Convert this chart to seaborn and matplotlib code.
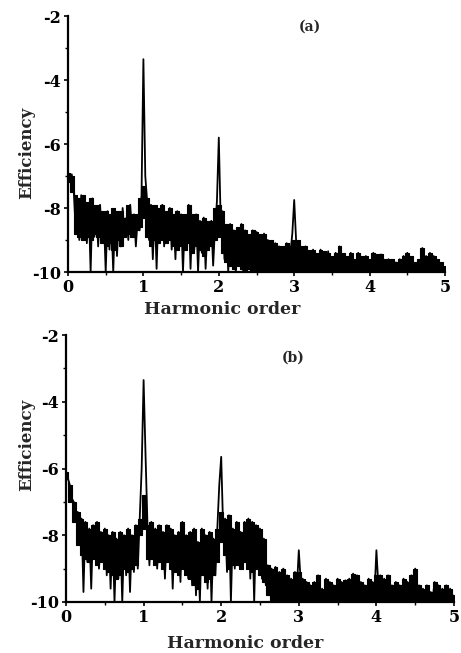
import numpy as np
import pandas as pd
import matplotlib
matplotlib.use("Agg")
import matplotlib.pyplot as plt
import seaborn as sns

# Harmonic order grids
harmonic_step = 0.025      # spectrum trace
envelope_step = 0.05       # dense band envelopes
x_ticks = [0, 1, 2, 3, 4, 5]
y_ticks = [-10, -8, -6, -4, -2]
y_ticklabels = ["-10", "-8", "-6", "-4", "-2"]

# Panel (a) efficiency trace (log scale)
eff_a = [
    -6.9, -7.0, -6.95, -7.4, -8.6, -7.7, -9.0, -7.6, -8.8, -7.7,
    -9.1, -7.9, -10.0, -7.7, -8.9, -8.0, -9.2, -7.9, -9.0, -8.2,
    -10.0, -8.1, -9.3, -8.3, -10.0, -8.1, -9.5, -8.2, -9.2, -8.0,
    -8.9, -8.3, -9.0, -7.9, -8.8, -8.2, -9.2, -8.3, -8.7, -7.6,
    -3.35, -7.0, -7.8, -9.0, -7.9, -9.6, -8.0, -9.9, -8.1, -9.0,
    -7.9, -9.2, -8.2, -9.0, -8.0, -9.3, -8.3, -9.6, -8.1, -9.2,
    -8.2, -10.0, -8.3, -9.1, -7.9, -9.9, -8.3, -9.3, -8.2, -10.0,
    -8.4, -9.4, -8.3, -9.9, -8.5, -9.0, -8.4, -9.8, -8.6, -7.8,
    -5.8, -8.4, -8.1, -9.6, -8.6, -10.0, -8.5, -9.7, -8.7, -10.0,
    -8.8, -9.8, -8.5, -10.0, -8.7, -9.9, -8.9, -10.0, -8.7, -9.8,
    -8.75, -10.0, -8.9, -9.7, -8.8, -10.0, -9.0, -9.9, -9.1, -10.0,
    -9.1, -9.9, -9.2, -10.0, -9.3, -9.8, -9.1, -10.0, -9.4, -8.8,
    -7.75, -9.0, -9.2, -10.0, -9.3, -9.9, -9.2, -10.0, -9.4, -9.8,
    -9.3, -10.0, -9.5, -9.9, -9.3, -10.0, -9.4, -9.9, -9.35, -10.0,
    -9.6, -9.9, -9.4, -10.0, -9.2, -9.9, -9.5, -10.0, -9.6, -9.9,
    -9.4, -10.0, -9.7, -9.9, -9.4, -10.0, -9.6, -9.9, -9.5, -10.0,
    -9.7, -10.0, -9.4, -9.9, -9.5, -10.0, -9.45, -9.9, -9.7, -10.0,
    -9.6, -9.9, -9.8, -10.0, -9.7, -9.9, -9.6, -10.0, -9.5, -9.9,
    -9.4, -10.0, -9.6, -9.9, -9.8, -10.0, -9.7, -10.0, -9.25, -9.9,
    -9.5, -10.0, -9.4, -9.9, -9.5, -10.0, -9.7, -9.9, -9.8, -10.0,
    -9.9,
]

# Panel (a) dense band: upper and lower edges (step 0.05)
top_a = [
    -6.9, -7.0, -7.6, -7.7, -7.6, -7.8, -7.7, -7.9, -7.9, -8.1,
    -8.1, -8.2, -8.0, -8.1, -8.1, -8.3, -7.9, -8.2, -8.2, -7.7,
    -7.3, -7.7, -7.9, -7.9, -8.0, -7.9, -8.1, -8.0, -8.2, -8.1,
    -8.2, -8.2, -7.9, -8.2, -8.2, -8.4, -8.3, -8.4, -8.4, -8.0,
    -7.9, -8.1, -8.5, -8.5, -8.7, -8.6, -8.5, -8.7, -8.8, -8.7,
    -8.75, -8.8, -8.8, -9.0, -9.0, -9.1, -9.2, -9.2, -9.1, -9.2,
    -9.0, -9.0, -9.2, -9.2, -9.3, -9.3, -9.4, -9.3, -9.35, -9.4,
    -9.5, -9.4, -9.2, -9.4, -9.5, -9.4, -9.6, -9.4, -9.5, -9.5,
    -9.6, -9.4, -9.45, -9.45, -9.6, -9.6, -9.6, -9.7, -9.6, -9.5,
    -9.4, -9.5, -9.7, -9.6, -9.25, -9.5, -9.4, -9.5, -9.6, -9.7,
    -9.8,
]
floor_a = [
    -7.2, -7.5, -8.8, -8.9, -9.0, -8.9, -9.0, -8.8, -8.9, -9.1,
    -9.2, -9.1, -9.3, -9.0, -9.2, -8.9, -8.8, -8.9, -8.7, -8.6,
    -8.3, -8.9, -9.2, -9.0, -9.1, -9.0, -9.1, -9.0, -9.2, -9.3,
    -9.2, -9.3, -9.1, -9.4, -9.2, -9.3, -9.5, -9.3, -9.2, -9.0,
    -8.9, -9.4, -9.7, -9.8, -9.9, -9.8, -9.9, -10.0, -9.9, -10.0,
    -10.0, -10.0, -10.0, -10.0, -10.0, -10.0, -10.0, -10.0, -10.0, -10.0,
    -10.0, -10.0, -10.0, -10.0, -10.0, -10.0, -10.0, -10.0, -10.0, -10.0,
    -10.0, -10.0, -10.0, -10.0, -10.0, -10.0, -10.0, -10.0, -10.0, -10.0,
    -10.0, -10.0, -10.0, -10.0, -10.0, -10.0, -10.0, -10.0, -10.0, -10.0,
    -10.0, -10.0, -10.0, -10.0, -10.0, -10.0, -10.0, -10.0, -10.0, -10.0,
    -10.0,
]

# Panel (b) efficiency trace
eff_b = [
    -6.1, -6.3, -6.5, -6.9, -7.0, -7.6, -7.3, -8.3, -7.5, -9.7,
    -7.6, -8.8, -7.8, -9.6, -7.7, -8.7, -7.6, -9.0, -7.9, -8.8,
    -7.8, -9.2, -8.0, -9.6, -7.9, -10.0, -8.1, -9.3, -7.9, -10.0,
    -8.0, -9.2, -7.8, -9.7, -8.0, -9.1, -7.7, -9.0, -7.5, -6.0,
    -3.35, -5.6, -7.7, -8.9, -7.6, -8.7, -7.8, -9.0, -7.7, -8.8,
    -7.9, -9.3, -7.7, -8.8, -7.8, -9.6, -8.0, -9.0, -7.9, -9.4,
    -7.6, -9.0, -8.0, -9.3, -7.9, -9.5, -7.8, -9.8, -8.2, -10.0,
    -7.8, -9.2, -8.0, -9.6, -7.9, -10.0, -8.1, -9.2, -7.8, -6.5,
    -5.65, -7.8, -7.5, -9.1, -7.4, -10.0, -7.8, -9.0, -7.6, -8.9,
    -7.9, -9.0, -7.6, -8.8, -7.5, -9.3, -7.6, -10.0, -7.7, -9.0,
    -7.8, -9.3, -8.1, -9.5, -8.9, -9.8, -9.0, -10.0, -8.95, -9.7,
    -9.1, -10.0, -9.0, -9.8, -9.2, -10.0, -9.3, -9.9, -9.1, -9.6,
    -8.45, -9.4, -9.3, -10.0, -9.4, -9.9, -9.5, -10.0, -9.4, -9.9,
    -9.2, -10.0, -9.6, -9.9, -9.3, -10.0, -9.4, -9.9, -9.5, -10.0,
    -9.3, -9.9, -9.4, -10.0, -9.35, -9.9, -9.3, -10.0, -9.15, -9.9,
    -9.2, -10.0, -9.4, -9.9, -9.5, -10.0, -9.3, -9.9, -9.4, -9.8,
    -8.45, -9.5, -9.2, -10.0, -9.3, -9.9, -9.2, -10.0, -9.5, -9.9,
    -9.4, -10.0, -9.5, -9.9, -9.3, -10.0, -9.4, -9.9, -9.2, -10.0,
    -9.0, -9.9, -9.5, -10.0, -9.6, -9.9, -9.5, -10.0, -9.7, -9.9,
    -9.4, -10.0, -9.5, -9.9, -9.6, -10.0, -9.5, -9.9, -9.6, -10.0,
    -9.8,
]

# Panel (b) dense band: upper and lower edges (step 0.05)
top_b = [
    -6.1, -6.5, -7.0, -7.3, -7.5, -7.6, -7.8, -7.7, -7.6, -7.9,
    -7.8, -8.0, -7.9, -8.1, -7.9, -8.0, -7.8, -8.0, -7.7, -7.5,
    -6.8, -7.7, -7.6, -7.8, -7.7, -7.9, -7.7, -7.8, -8.0, -7.9,
    -7.6, -8.0, -7.9, -7.8, -8.2, -7.8, -8.0, -7.9, -8.1, -7.8,
    -7.3, -7.5, -7.4, -7.8, -7.6, -7.9, -7.6, -7.5, -7.6, -7.7,
    -7.8, -8.1, -8.9, -9.0, -8.95, -9.1, -9.0, -9.2, -9.3, -9.1,
    -9.1, -9.3, -9.4, -9.5, -9.4, -9.2, -9.6, -9.3, -9.4, -9.5,
    -9.3, -9.4, -9.35, -9.3, -9.15, -9.2, -9.4, -9.5, -9.3, -9.4,
    -9.2, -9.2, -9.3, -9.2, -9.5, -9.4, -9.5, -9.3, -9.4, -9.2,
    -9.0, -9.5, -9.6, -9.5, -9.7, -9.4, -9.5, -9.6, -9.5, -9.6,
    -9.8,
]
floor_b = [
    -6.3, -7.0, -7.6, -8.3, -8.6, -8.7, -8.8, -8.7, -8.9, -8.8,
    -9.0, -9.1, -9.2, -9.3, -9.2, -9.0, -9.1, -9.0, -8.9, -8.0,
    -7.8, -8.7, -8.7, -8.9, -8.8, -9.0, -8.8, -9.0, -9.1, -9.2,
    -9.0, -9.2, -9.3, -9.5, -9.6, -9.2, -9.4, -9.3, -9.2, -8.8,
    -8.2, -8.6, -9.0, -8.9, -8.9, -9.0, -8.8, -9.0, -9.1, -9.0,
    -9.2, -9.4, -9.8, -10.0, -10.0, -10.0, -10.0, -10.0, -10.0, -10.0,
    -10.0, -10.0, -10.0, -10.0, -10.0, -10.0, -10.0, -10.0, -10.0, -10.0,
    -10.0, -10.0, -10.0, -10.0, -10.0, -10.0, -10.0, -10.0, -10.0, -10.0,
    -10.0, -10.0, -10.0, -10.0, -10.0, -10.0, -10.0, -10.0, -10.0, -10.0,
    -10.0, -10.0, -10.0, -10.0, -10.0, -10.0, -10.0, -10.0, -10.0, -10.0,
    -10.0,
]

df_a = pd.DataFrame({"order": np.arange(len(eff_a)) * harmonic_step, "eff": eff_a})
df_b = pd.DataFrame({"order": np.arange(len(eff_b)) * harmonic_step, "eff": eff_b})
band_a = pd.DataFrame({"order": np.arange(len(top_a)) * envelope_step, "top": top_a, "floor": floor_a})
band_b = pd.DataFrame({"order": np.arange(len(top_b)) * envelope_step, "top": top_b, "floor": floor_b})

sns.set_style("ticks")
plt.rcParams["font.family"] = ["DejaVu Serif"]
plt.rcParams["font.weight"] = "bold"

fig = plt.figure(figsize=(4.61, 6.53), dpi=100)
ax_a = fig.add_axes([68 / 461, 1 - 272 / 653, 377 / 461, 256 / 653])
ax_b = fig.add_axes([66 / 461, 1 - 602 / 653, 388 / 461, 267 / 653])

for ax, df, band, lab, lab_xy, ylab_y, xlab_y, xlab_x in [
    (ax_a, df_a, band_a, "(a)", (310, 27), 153, 309, 222),
    (ax_b, df_b, band_b, "(b)", (293, 358), 445, 643, 245),
]:
    ax.fill_between(band["order"], band["floor"], band["top"],
                    color="black", linewidth=0.8, step="mid")
    sns.lineplot(data=df, x="order", y="eff", ax=ax, color="black",
                 linewidth=1.3, estimator=None, sort=False)
    ax.set_xlim(0, 5)
    ax.set_ylim(-10, -2)
    ax.set_xticks(x_ticks)
    ax.set_xticks([0.5, 1.5, 2.5, 3.5, 4.5], minor=True)
    ax.set_yticks(y_ticks)
    ax.set_yticklabels(y_ticklabels)
    ax.set_yticks([-9, -7, -5, -3], minor=True)
    ax.tick_params(axis="both", which="major", direction="out", length=3,
                   width=1.2, labelsize=11.5, pad=2, colors="black")
    ax.tick_params(axis="both", which="minor", direction="out", length=2,
                   width=1.0, colors="black")
    for lbl in ax.get_xticklabels() + ax.get_yticklabels():
        lbl.set_fontweight("bold")
    ax.set_xlabel("")
    ax.set_ylabel("")
    for side in ["top", "right"]:
        ax.spines[side].set_visible(False)
    for side in ["left", "bottom"]:
        ax.spines[side].set_linewidth(1.6)
        ax.spines[side].set_color("black")
    fig.text(lab_xy[0] / 461, 1 - lab_xy[1] / 653, lab, ha="center",
             va="center", fontsize=10, fontweight="bold")
    fig.text(27 / 461, 1 - ylab_y / 653, "Efficiency", rotation=90,
             ha="center", va="center", fontsize=12, fontweight="bold")
    fig.text(xlab_x / 461, 1 - xlab_y / 653,
             "Harmonic order", ha="center", va="center", fontsize=12.5,
             fontweight="bold")

fig.savefig("out.png", dpi=100, facecolor="white")
